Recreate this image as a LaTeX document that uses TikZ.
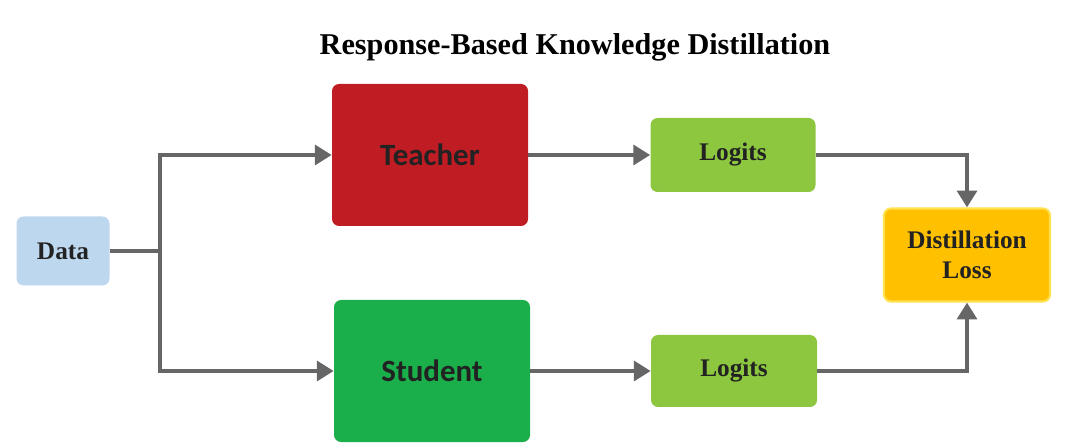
\documentclass[tikz,border=0pt]{standalone}
\usepackage{fontspec}
\setmainfont{Liberation Serif}
\newfontfamily\boxfont{Carlito}
\usetikzlibrary{arrows.meta}

\definecolor{datablue}{HTML}{BDD7EE}
\definecolor{teachred}{HTML}{C01C24}
\definecolor{studgreen}{HTML}{1AAF4B}
\definecolor{logitgreen}{HTML}{8DC63F}
\definecolor{lossgold}{HTML}{FFC000}
\definecolor{lossedge}{HTML}{FFE04D}
\definecolor{linegray}{HTML}{666666}
\definecolor{txtdark}{HTML}{222222}

\tikzset{
  box/.style={rounded corners=5pt, align=center, text=txtdark, font=\bfseries\fontsize{18}{21}\selectfont},
  bigbox/.style={box, minimum width=4.9cm, minimum height=3.55cm, font=\boxfont\bfseries\fontsize{22}{26}\selectfont},
  conn/.style={draw=linegray, line width=3.5pt},
  arr/.style={conn, -{Triangle[length=12pt,width=14pt]}}
}

\begin{document}
\begin{tikzpicture}
    % page frame
    \useasboundingbox (0,0) rectangle (27,11.175);

    % Title
    \node (title) at (14.375,10.0) {\bfseries\fontsize{21.5}{25}\selectfont Response-Based Knowledge Distillation};

    % Boxes
    \node[box, fill=datablue, minimum width=2.325cm, minimum height=1.725cm] (data) at (1.575,4.9) {Data};
    \node[bigbox, fill=teachred] (teacher) at (10.75,7.3) {Teacher};
    \node[bigbox, fill=studgreen] (student) at (10.8,1.9) {Student};
    \node[box, fill=logitgreen, minimum width=4.125cm, minimum height=1.85cm] (logitsT) at (18.325,7.3) {Logits};
    \node[box, fill=logitgreen, minimum width=4.15cm, minimum height=1.8cm] (logitsS) at (18.35,1.9) {Logits};
    \node[box, fill=lossgold, draw=lossedge, line width=1.5pt, minimum width=4.15cm, minimum height=2.325cm] (loss) at (24.175,4.8) {Distillation\\Loss};

    % Connections
    \coordinate (split) at (4,4.9);
    \draw[conn] (data.east) -- (split);
    \draw[arr] (split) |- (teacher.west);
    \draw[arr] (split) |- (student.west);
    \draw[arr] (teacher.east) -- (logitsT.west);
    \draw[arr] (student.east) -- (logitsS.west);
    \draw[arr] (logitsT.east) -| (loss.north);
    \draw[arr] (logitsS.east) -| (loss.south);
\end{tikzpicture}
\end{document}
